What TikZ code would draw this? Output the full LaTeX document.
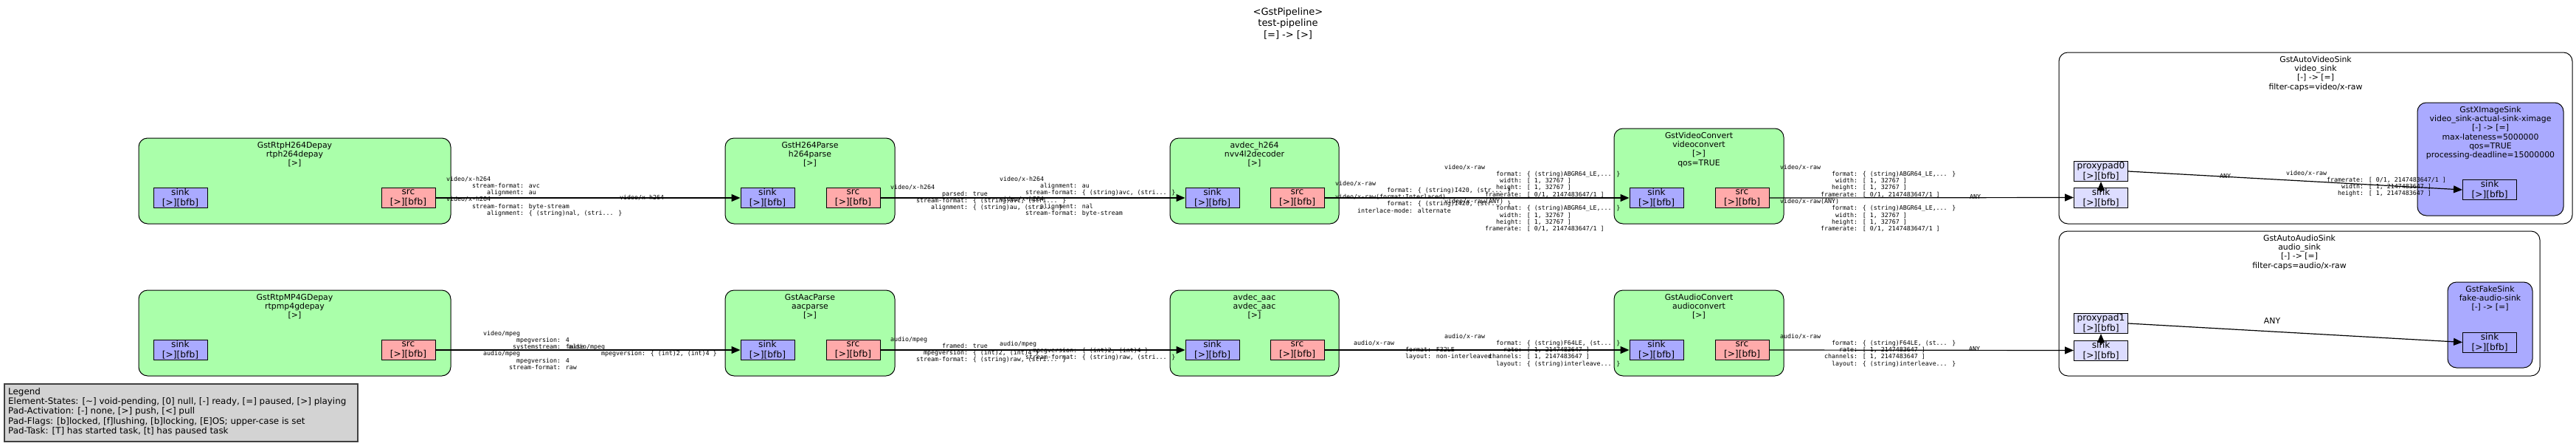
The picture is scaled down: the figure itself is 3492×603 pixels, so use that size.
\documentclass[tikz,border=0pt]{standalone}
\usepackage{fontspec}
\setmainfont{DejaVu Sans}
\newfontfamily\capsmono{DejaVu Sans Mono}
\usetikzlibrary{arrows.meta}

\definecolor{elemgreen}{HTML}{AAFFAA}
\definecolor{sinkblue}{HTML}{AAAAFF}
\definecolor{srcred}{HTML}{FFAAAA}
\definecolor{ghostblue}{HTML}{DDDDFF}
\definecolor{legendgray}{HTML}{D3D3D3}

\newcommand\titlefont{\fontsize{13}{15.5}\selectfont}
\newcommand\elemfont{\fontsize{10.9}{12.2}\selectfont}
\newcommand\padfont{\fontsize{12.2}{14}\selectfont}
\newcommand\legendfont{\fontsize{11.9}{13.3}\selectfont}
\newcommand\capsfont{\capsmono\fontsize{8.3}{9.3}\selectfont}
% one caps field, name right-aligned in 20 columns
\newcommand\fld[2]{\makebox[12.04em][r]{#1}: #2}

\begin{document}
\begin{tikzpicture}[x=1pt, y=-1pt,
  elem/.style = {draw, line width=1pt, rounded corners=12pt, fill=elemgreen},
  sinkelem/.style = {elem, fill=sinkblue},
  bin/.style = {elem, fill=white},
  etitle/.style = {anchor=north, align=center, inner sep=0pt, font=\elemfont},
  pad/.style = {draw, line width=1pt, align=center, inner sep=0pt,
    minimum width=73pt, minimum height=27pt, font=\padfont},
  sinkpad/.style = {pad, fill=sinkblue},
  srcpad/.style = {pad, fill=srcred},
  ghostpad/.style = {pad, fill=ghostblue},
  caps/.style = {anchor=north west, align=left, inner sep=0pt, font=\capsfont},
  link/.style = {-{Triangle[length=12pt, width=10pt]}, line width=1.2pt}]
  \useasboundingbox (0,0) rectangle (3492,603);

  \node[font=\titlefont, align=center] (pipe) at (1746,31.5)
    {<GstPipeline>\\test-pipeline\\{}[=] -> [>]};

  % video branch
  \node[elem, minimum width=423pt, minimum height=116pt] (depay) at (399.5,245) {};
  \node[etitle] (depayname) at ([yshift=-5.5pt]depay.north) {GstRtpH264Depay\\rtph264depay\\{}[>]};
  \node[sinkpad] (depaysink) at (244.5,268) {sink\\{}[>][bfb]};
  \node[srcpad] (depaysrc) at (553.5,268) {src\\{}[>][bfb]};

  \node[elem, minimum width=230pt, minimum height=116pt] (parse) at (1098,245) {};
  \node[etitle] (parsename) at ([yshift=-5.5pt]parse.north) {GstH264Parse\\h264parse\\{}[>]};
  \node[sinkpad] (parsesink) at (1040.5,268) {sink\\{}[>][bfb]};
  \node[srcpad] (parsesrc) at (1156.5,268) {src\\{}[>][bfb]};

  \node[elem, minimum width=229pt, minimum height=116pt] (avdech) at (1700.5,245) {};
  \node[etitle] (avdechname) at ([yshift=-5.5pt]avdech.north) {avdec\_h264\\nvv4l2decoder\\{}[>]};
  \node[sinkpad] (avdechsink) at (1643.5,268) {sink\\{}[>][bfb]};
  \node[srcpad] (avdechsrc) at (1758.5,268) {src\\{}[>][bfb]};

  \node[elem, minimum width=230pt, minimum height=129pt] (vconv) at (2303,238.5) {};
  \node[etitle] (vconvname) at ([yshift=-5.5pt]vconv.north) {GstVideoConvert\\videoconvert\\{}[>]\\qos=TRUE};
  \node[sinkpad] (vconvsink) at (2245.5,268) {sink\\{}[>][bfb]};
  \node[srcpad] (vconvsrc) at (2361.5,268) {src\\{}[>][bfb]};

  \node[bin, minimum width=696pt, minimum height=232pt] (vsinkbin) at (3139,187) {};
  \node[etitle] (vsinkbinname) at ([yshift=-5.5pt]vsinkbin.north)
    {GstAutoVideoSink\\video\_sink\\{}[-] -> [=]\\filter-caps=video/x-raw};
  \node[sinkelem, minimum width=198pt, minimum height=153pt] (ximage) at (3376,215.5) {};
  \node[etitle] (ximagename) at ([yshift=-5.5pt]ximage.north)
    {GstXImageSink\\video\_sink-actual-sink-ximage\\{}[-] -> [=]\\max-lateness=5000000\\qos=TRUE\\processing-deadline=15000000};
  \node[ghostpad] (vproxy) at (2848,232) {proxypad0\\{}[>][bfb]};
  \node[ghostpad] (vghost) at (2848,267.5) {sink\\{}[>][bfb]};
  \node[sinkpad] (ximagesink) at (3375,257) {sink\\{}[>][bfb]};

  % audio branch
  \node[elem, minimum width=423pt, minimum height=116pt] (mpdepay) at (399.5,451) {};
  \node[etitle] (mpdepayname) at ([yshift=-5.5pt]mpdepay.north) {GstRtpMP4GDepay\\rtpmp4gdepay\\{}[>]};
  \node[sinkpad] (mpdepaysink) at (244.5,474) {sink\\{}[>][bfb]};
  \node[srcpad] (mpdepaysrc) at (553.5,474) {src\\{}[>][bfb]};

  \node[elem, minimum width=230pt, minimum height=116pt] (aparse) at (1098,451) {};
  \node[etitle] (aparsename) at ([yshift=-5.5pt]aparse.north) {GstAacParse\\aacparse\\{}[>]};
  \node[sinkpad] (aparsesink) at (1040.5,474) {sink\\{}[>][bfb]};
  \node[srcpad] (aparsesrc) at (1156.5,474) {src\\{}[>][bfb]};

  \node[elem, minimum width=229pt, minimum height=116pt] (avdeca) at (1700.5,451) {};
  \node[etitle] (avdecaname) at ([yshift=-5.5pt]avdeca.north) {avdec\_aac\\avdec\_aac\\{}[>]};
  \node[sinkpad] (avdecasink) at (1643.5,474) {sink\\{}[>][bfb]};
  \node[srcpad] (avdecasrc) at (1758.5,474) {src\\{}[>][bfb]};

  \node[elem, minimum width=230pt, minimum height=116pt] (aconv) at (2303,451) {};
  \node[etitle] (aconvname) at ([yshift=-5.5pt]aconv.north) {GstAudioConvert\\audioconvert\\{}[>]};
  \node[sinkpad] (aconvsink) at (2245.5,474) {sink\\{}[>][bfb]};
  \node[srcpad] (aconvsrc) at (2361.5,474) {src\\{}[>][bfb]};

  \node[bin, minimum width=652pt, minimum height=196pt] (asinkbin) at (3117,411) {};
  \node[etitle] (asinkbinname) at ([yshift=-5.5pt]asinkbin.north)
    {GstAutoAudioSink\\audio\_sink\\{}[-] -> [=]\\filter-caps=audio/x-raw};
  \node[sinkelem, minimum width=115pt, minimum height=116pt] (fakesink) at (3375.5,440) {};
  \node[etitle] (fakesinkname) at ([yshift=-5.5pt]fakesink.north) {GstFakeSink\\fake-audio-sink\\{}[-] -> [=]};
  \node[ghostpad] (aproxy) at (2848,438) {proxypad1\\{}[>][bfb]};
  \node[ghostpad] (aghost) at (2848,474.5) {sink\\{}[>][bfb]};
  \node[sinkpad] (fakesinkpad) at (3375,463.5) {sink\\{}[>][bfb]};

  % links
  \draw[link] (depaysrc.east) -- (parsesink.west);
  \draw[link] (parsesrc.east) -- (avdechsink.west);
  \draw[link] (avdechsrc.east) -- (vconvsink.west);
  \draw[link] (vconvsrc.east) -- (vghost.west);
  \draw[link] ([yshift=-6pt]vghost.north) -- (vproxy.south);
  \draw[link] (vproxy.east) -- (ximagesink.west);
  \draw[link] (mpdepaysrc.east) -- (aparsesink.west);
  \draw[link] (aparsesrc.east) -- (avdecasink.west);
  \draw[link] (avdecasrc.east) -- (aconvsink.west);
  \draw[link] (aconvsrc.east) -- (aghost.west);
  \draw[link] ([yshift=-6pt]aghost.north) -- (aproxy.south);
  \draw[link] (aproxy.east) -- (fakesinkpad.west);

  % caps on the video links
  \node[caps] (depaycaps) at (605,238.5) {video/x-h264\\
    \fld{stream-format}{avc}\\\fld{alignment}{au}\\video/x-h264\\
    \fld{stream-format}{byte-stream}\\\fld{alignment}{\{ (string)nal, (stri... \}}};
  \node[caps] (parsesinkcaps) at (840,263.5) {video/x-h264};
  \node[caps] (parsecaps) at (1207,249.5) {video/x-h264\\
    \fld{parsed}{true}\\\fld{stream-format}{\{ (string)avc, (stri... \}}\\
    \fld{alignment}{\{ (string)au, (stri... \}}};
  \node[caps] (avdechsinkcaps) at (1355,238.5) {video/x-h264\\
    \fld{alignment}{au}\\\fld{stream-format}{\{ (string)avc, (stri... \}}\\video/x-h264\\
    \fld{alignment}{nal}\\\fld{stream-format}{byte-stream}};
  \node[caps] (avdechcaps) at (1810,244.5) {video/x-raw\\
    \fld{format}{\{ (string)I420, (str... \}}\\video/x-raw(format:Interlaced)\\
    \fld{format}{\{ (string)I420, (str... \}}\\\fld{interlace-mode}{alternate}};
  \node[caps] (vconvsinkcaps) at (1958,222.5) {video/x-raw\\
    \fld{format}{\{ (string)ABGR64\_LE,... \}}\\\fld{width}{[ 1, 32767 ]}\\
    \fld{height}{[ 1, 32767 ]}\\\fld{framerate}{[ 0/1, 2147483647/1 ]}\\video/x-raw(ANY)\\
    \fld{format}{\{ (string)ABGR64\_LE,... \}}\\\fld{width}{[ 1, 32767 ]}\\
    \fld{height}{[ 1, 32767 ]}\\\fld{framerate}{[ 0/1, 2147483647/1 ]}};
  \node[caps] (vconvcaps) at (2413,222.5) {video/x-raw\\
    \fld{format}{\{ (string)ABGR64\_LE,... \}}\\\fld{width}{[ 1, 32767 ]}\\
    \fld{height}{[ 1, 32767 ]}\\\fld{framerate}{[ 0/1, 2147483647/1 ]}\\video/x-raw(ANY)\\
    \fld{format}{\{ (string)ABGR64\_LE,... \}}\\\fld{width}{[ 1, 32767 ]}\\
    \fld{height}{[ 1, 32767 ]}\\\fld{framerate}{[ 0/1, 2147483647/1 ]}};
  \node[caps] (vghostcaps) at (2670,263.5) {ANY};
  \node[caps] (vproxycaps) at (3009,235.5) {ANY};
  \node[caps] (ximagecaps) at (3099,230.5) {video/x-raw\\
    \fld{framerate}{[ 0/1, 2147483647/1 ]}\\\fld{width}{[ 1, 2147483647 ]}\\
    \fld{height}{[ 1, 2147483647 ]}};

  % caps on the audio links
  \node[caps] (mpdepaycaps) at (655,447.5) {video/mpeg\\
    \fld{mpegversion}{4}\\\fld{systemstream}{false}\\audio/mpeg\\
    \fld{mpegversion}{4}\\\fld{stream-format}{raw}};
  \node[caps] (aparsesinkcaps) at (770,465.5) {audio/mpeg\\
    \fld{mpegversion}{\{ (int)2, (int)4 \}}};
  \node[caps] (aparsecaps) at (1207,455.5) {audio/mpeg\\
    \fld{framed}{true}\\\fld{mpegversion}{\{ (int)2, (int)4 \}}\\
    \fld{stream-format}{\{ (string)raw, (stri... \}}};
  \node[caps] (avdecasinkcaps) at (1355,461.5) {audio/mpeg\\
    \fld{mpegversion}{\{ (int)2, (int)4 \}}\\\fld{stream-format}{\{ (string)raw, (stri... \}}};
  \node[caps] (avdecacaps) at (1835,460.5) {audio/x-raw\\
    \fld{format}{F32LE}\\\fld{layout}{non-interleaved}};
  \node[caps] (aconvsinkcaps) at (1958,451.5) {audio/x-raw\\
    \fld{format}{\{ (string)F64LE, (st... \}}\\\fld{rate}{[ 1, 2147483647 ]}\\
    \fld{channels}{[ 1, 2147483647 ]}\\\fld{layout}{\{ (string)interleave... \}}};
  \node[caps] (aconvcaps) at (2413,451.5) {audio/x-raw\\
    \fld{format}{\{ (string)F64LE, (st... \}}\\\fld{rate}{[ 1, 2147483647 ]}\\
    \fld{channels}{[ 1, 2147483647 ]}\\\fld{layout}{\{ (string)interleave... \}}};
  \node[caps] (aghostcaps) at (2669,469.5) {ANY};
  \node[font=\elemfont, inner sep=0pt] (aproxycaps) at (3080,435) {ANY};

  % legend
  \node[draw=black!75, line width=1.5pt, fill=legendgray, anchor=north west,
    minimum width=479pt, minimum height=78pt] (legend) at (5,519) {};
  \node[anchor=north west, align=left, inner sep=0pt, font=\legendfont] (legendtext)
    at ([shift={(6pt,-6pt)}]legend.north west) {Legend\\
    Element-States: [\textasciitilde] void-pending, [0] null, [-] ready, [=] paused, [>] playing\\
    Pad-Activation: [-] none, [>] push, [<] pull\\
    Pad-Flags: [b]locked, [f]lushing, [b]locking, [E]OS; upper-case is set\\
    Pad-Task: [T] has started task, [t] has paused task};
\end{tikzpicture}
\end{document}
